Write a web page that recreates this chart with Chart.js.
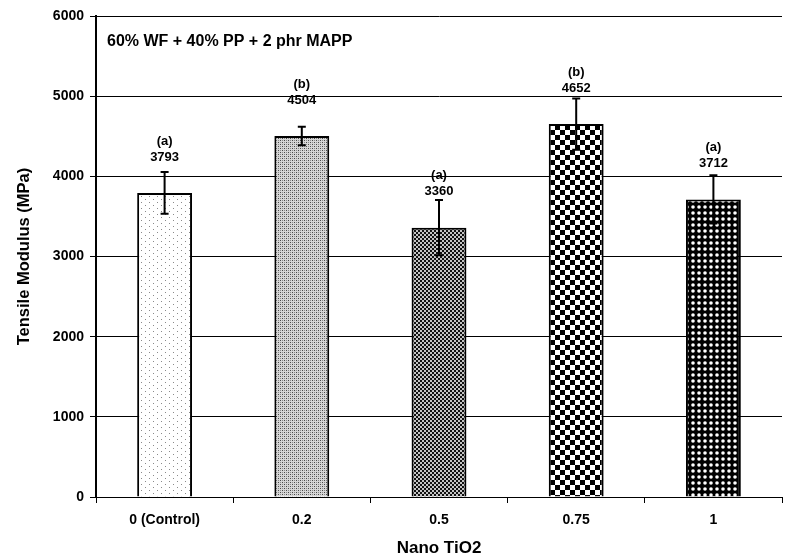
<!DOCTYPE html>
<html lang="en">
<head>
    <meta charset="UTF-8">
    <title>Tensile Modulus vs Nano TiO2</title>
    <style>
        html, body { margin: 0; padding: 0; background: #fff; }
        #holder { width: 786px; height: 559px; }
    </style>
</head>
<body>
    <div id="holder">
        <canvas id="chartCanvas" width="786" height="559"></canvas>
    </div>

    <script src="https://cdn.jsdelivr.net/npm/chart.js"></script>
    <script>
        // Data
        const categories = ['0 (Control)', '0.2', '0.5', '0.75', '1'];
        const modulus = [3793, 4504, 3360, 4652, 3712];
        const errors = [260, 115, 345, 320, 300];
        const groupLetters = ['(a)', '(b)', '(a)', '(b)', '(a)'];
        const yTicks = [0, 1000, 2000, 3000, 4000, 5000, 6000];
        const noteText = '60% WF + 40% PP + 2 phr MAPP';

        const FONT = "'Liberation Sans', Arial, sans-serif";

        // little helper for the fill patterns of the bars
        function makePattern(w, h, draw) {
            const c = document.createElement('canvas');
            c.width = w; c.height = h;
            const g = c.getContext('2d');
            draw(g);
            return document.getElementById('chartCanvas').getContext('2d').createPattern(c, 'repeat');
        }

        const patterns = [
            // sparse grey dots
            makePattern(8, 6, g => {
                g.fillStyle = '#fff'; g.fillRect(0, 0, 8, 6);
                g.fillStyle = '#8a8a8a';
                g.fillRect(1, 1, 1, 1);
                g.fillRect(5, 4, 1, 1);
            }),
            // fine light stipple
            makePattern(4, 4, g => {
                g.fillStyle = '#d6d6d6'; g.fillRect(0, 0, 4, 4);
                g.fillStyle = '#4a4a4a';
                g.fillRect(0, 0, 1, 1);
                g.fillRect(2, 2, 1, 1);
                g.fillStyle = '#8a8a8a';
                g.fillRect(2, 0, 1, 1);
                g.fillRect(0, 2, 1, 1);
            }),
            // small checkerboard
            makePattern(4, 4, g => {
                g.fillStyle = '#c4c4c4'; g.fillRect(0, 0, 4, 4);
                g.fillStyle = '#111';
                g.fillRect(0, 0, 2, 2);
                g.fillRect(2, 2, 2, 2);
            }),
            // large checkerboard
            makePattern(10, 10, g => {
                g.fillStyle = '#fff'; g.fillRect(0, 0, 10, 10);
                g.fillStyle = '#000';
                g.fillRect(0, 0, 5, 5);
                g.fillRect(5, 5, 5, 5);
            }),
            // white dots on black
            makePattern(6, 6, g => {
                g.fillStyle = '#000'; g.fillRect(0, 0, 6, 6);
                g.fillStyle = '#fff';
                g.beginPath();
                g.arc(3, 3, 1.8, 0, Math.PI * 2);
                g.fill();
            })
        ];

        // error bars, letters, values and the note
        const extrasPlugin = {
            id: 'extras',
            afterDatasetsDraw(chart) {
                const ctx = chart.ctx;
                const meta = chart.getDatasetMeta(0);
                const ys = chart.scales.y;
                ctx.save();
                meta.data.forEach((bar, i) => {
                    const x = bar.x;
                    const top = ys.getPixelForValue(modulus[i] + errors[i]);
                    const bot = ys.getPixelForValue(modulus[i] - errors[i]);
                    ctx.strokeStyle = '#000';
                    ctx.lineWidth = 2;
                    ctx.beginPath();
                    ctx.moveTo(x, top); ctx.lineTo(x, bot);
                    ctx.moveTo(x - 4, top); ctx.lineTo(x + 4, top);
                    ctx.moveTo(x - 4, bot); ctx.lineTo(x + 4, bot);
                    ctx.stroke();

                    ctx.fillStyle = '#000';
                    ctx.font = 'bold 13px ' + FONT;
                    ctx.textAlign = 'center';
                    ctx.textBaseline = 'middle';
                    ctx.fillText(String(modulus[i]), x, bar.y - 36);
                    ctx.fillText(groupLetters[i], x, bar.y - 52);
                });
                const area = chart.chartArea;
                ctx.font = 'bold 16px ' + FONT;
                ctx.textAlign = 'left';
                ctx.textBaseline = 'middle';
                ctx.fillText(noteText, area.left + 11, area.top + 26);
                ctx.restore();
            }
        };

        const ctx = document.getElementById('chartCanvas').getContext('2d');
        const chart = new Chart(ctx, {
            type: 'bar',
            data: {
                labels: categories,
                datasets: [{
                    data: modulus,
                    backgroundColor: patterns,
                    borderColor: '#000',
                    borderWidth: 2,
                    borderSkipped: 'start',
                    barPercentage: 0.4,
                    categoryPercentage: 1.0
                }]
            },
            options: {
                responsive: false,
                animation: false,
                layout: { padding: { left: 0, top: 16, right: 4, bottom: 0 } },
                plugins: {
                    legend: { display: false },
                    tooltip: { enabled: false }
                },
                scales: {
                    x: {
                        offset: true,
                        grid: {
                            offset: true,
                            drawOnChartArea: false,
                            drawTicks: true,
                            tickLength: 6,
                            color: '#000'
                        },
                        border: { color: '#000', width: 1 },
                        ticks: {
                            color: '#000',
                            padding: 9,
                            font: { family: FONT, size: 14, weight: 'bold' }
                        },
                        title: {
                            display: true,
                            text: 'Nano TiO2',
                            color: '#000',
                            padding: { top: 4, bottom: 0 },
                            font: { family: FONT, size: 17, weight: 'bold' }
                        },
                        afterFit(scale) { scale.height = 62; }
                    },
                    y: {
                        min: 0,
                        max: 6000,
                        afterBuildTicks(scale) {
                            scale.ticks = yTicks.map(v => ({ value: v }));
                        },
                        grid: {
                            color: '#000',
                            lineWidth: 1,
                            tickLength: 6,
                            drawTicks: true
                        },
                        border: { color: '#000', width: 2 },
                        ticks: {
                            color: '#000',
                            padding: 6,
                            callback: v => String(v),
                            font: { family: FONT, size: 14, weight: 'bold' }
                        },
                        title: {
                            display: true,
                            text: 'Tensile Modulus (MPa)',
                            color: '#000',
                            padding: { top: 15, bottom: 0 },
                            font: { family: FONT, size: 16.5, weight: 'bold' }
                        },
                        afterFit(scale) { scale.width = 96; }
                    }
                }
            },
            plugins: [extrasPlugin]
        });
    </script>
</body>
</html>
